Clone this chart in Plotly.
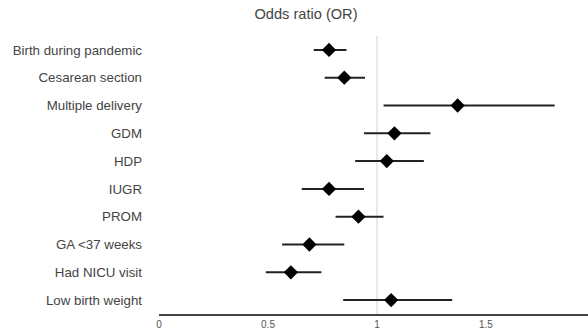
import plotly.graph_objects as go

categories = ["Birth during pandemic", "Cesarean section", "Multiple delivery", "GDM", "HDP",
              "IUGR", "PROM", "GA <37 weeks", "Had NICU visit", "Low birth weight"]
odds_ratio = [0.78, 0.85, 1.37, 1.08, 1.045, 0.78, 0.915, 0.69, 0.605, 1.065]
ci_low = [0.71, 0.76, 1.03, 0.94, 0.90, 0.655, 0.81, 0.565, 0.49, 0.845]
ci_high = [0.86, 0.945, 1.815, 1.245, 1.215, 0.94, 1.03, 0.85, 0.745, 1.345]
x_ticks = [0, 0.5, 1, 1.5, 2]
x_tick_labels = ["0", "0.5", "1", "1.5", "2"]
reference_value = 1

err_plus = [h - o for h, o in zip(ci_high, odds_ratio)]
err_minus = [o - l for o, l in zip(odds_ratio, ci_low)]

fig = go.Figure()
fig.add_trace(go.Scatter(
    x=odds_ratio, y=categories, mode="markers",
    marker=dict(symbol="diamond", size=11, color="black"),
    error_x=dict(type="data", symmetric=False, array=err_plus, arrayminus=err_minus,
                 width=0, thickness=2, color="#222222"),
    showlegend=False,
))
fig.add_vline(x=reference_value, line=dict(color="#e2e2e2", width=1.5), layer="below")

fig.update_layout(
    width=588, height=334,
    margin=dict(l=159, r=0, t=36, b=20),
    paper_bgcolor="white", plot_bgcolor="white",
    font=dict(family="Liberation Sans, Arial, sans-serif", color="#444444"),
    title=dict(text="Odds ratio (OR)", x=306 / 588, xanchor="center",
               y=1 - 14 / 334, yanchor="middle", font=dict(size=14.6, color="#444444")),
)
fig.update_xaxes(range=[0, 1.968], tickvals=x_ticks, ticktext=x_tick_labels,
                 showgrid=False, zeroline=False, showline=True, linecolor="#444444",
                 linewidth=1.5, ticks="", tickfont=dict(size=10, color="#555555"))
fig.update_yaxes(categoryorder="array", categoryarray=categories[::-1],
                 range=[-0.5, 9.5], showgrid=False, zeroline=False, showline=False,
                 ticks="", ticklabelstandoff=16, tickfont=dict(size=13.3, color="#444444"))

fig.write_html("out.html")
